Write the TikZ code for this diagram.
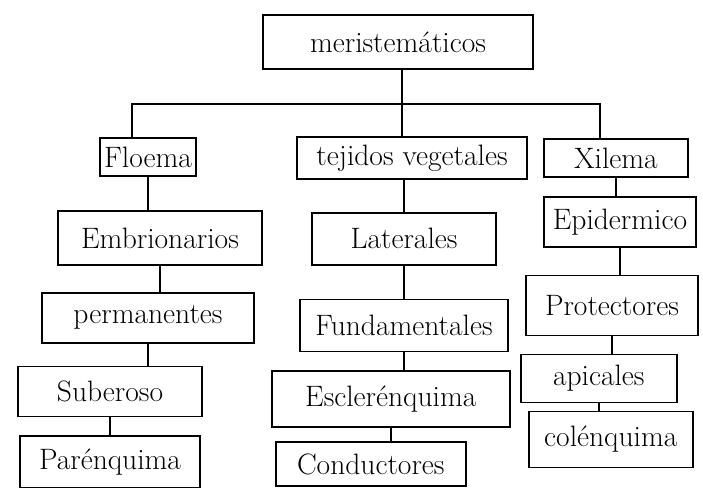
\documentclass[tikz,border=0pt]{standalone}
\usepackage{tikz}
\usetikzlibrary{positioning}

\begin{document}
\begin{tikzpicture}
    [
      BOX/.style={rectangle, draw=black, fill=white, line width = 1.2pt, inner sep = 2pt, align = center, font=\fontsize{21}{25}\selectfont},
      LINK/.style={-, line width = 1.2pt, black},
    ]

    \useasboundingbox (0,0) rectangle (17.575,-12.175);

    \node[BOX, minimum width = 6.75cm, minimum height = 1.35cm] (root) at (9.95,-1.05) {meristemáticos};

    \node[BOX, minimum width = 2.4cm, minimum height = 0.95cm] (floema) at (3.7,-3.93) {Floema};
    \node[BOX, minimum width = 5.75cm, minimum height = 1.05cm] (tejidos) at (10.3,-3.95) {tejidos vegetales};
    \node[BOX, minimum width = 3.6cm, minimum height = 0.95cm] (xilema) at (15.4,-3.95) {Xilema};

    % left column
    \node[BOX, minimum width = 5.1cm, minimum height = 1.35cm] (embrionarios) [below = 0.83cm of floema, xshift = 0.3cm] {Embrionarios};
    \node[BOX, minimum width = 5.3cm, minimum height = 1.25cm] (permanentes) [below = 0.65cm of embrionarios, xshift = -0.3cm] {permanentes};
    \node[BOX, minimum width = 4.6cm, minimum height = 1.25cm] (suberoso) [below = 0.55cm of permanentes, xshift = -0.95cm] {Suberoso};
    \node[BOX, minimum width = 4.5cm, minimum height = 1.3cm] (parenquima) [below = 0.45cm of suberoso] {Parénquima};

    % middle column
    \node[BOX, minimum width = 4.6cm, minimum height = 1.3cm] (laterales) [below = 0.8cm of tejidos, xshift = -0.2cm] {Laterales};
    \node[BOX, minimum width = 5.2cm, minimum height = 1.3cm] (fundamentales) [below = 0.83cm of laterales] {Fundamentales};
    \node[BOX, minimum width = 5.95cm, minimum height = 1.4cm] (esclerenquima) [below = 0.45cm of fundamentales, xshift = -0.33cm] {Esclerénquima};
    \node[BOX, minimum width = 4.75cm, minimum height = 1.1cm] (conductores) [below = 0.33cm of esclerenquima, xshift = -0.5cm] {Conductores};

    % right column
    \node[BOX, minimum width = 3.8cm, minimum height = 1.25cm] (epidermico) [below = 0.45cm of xilema, xshift = 0.1cm] {Epidermico};
    \node[BOX, minimum width = 4.3cm, minimum height = 1.5cm] (protectores) [below = 0.68cm of epidermico, xshift = -0.2cm] {Protectores};
    \node[BOX, minimum width = 3.9cm, minimum height = 1.2cm] (apicales) [below = 0.43cm of protectores, xshift = -0.33cm] {apicales};
    \node[BOX, minimum width = 4.1cm, minimum height = 1.4cm] (colenquima) [below = 0.18cm of apicales, xshift = 0.3cm] {colénquima};

    \coordinate (bus) at (10.05,-2.6);

    \draw[LINK] (root.south -| bus) to (tejidos.north -| bus);
    \draw[LINK] ([xshift = -0.4cm]floema.north) |- (bus) -| ([xshift = -0.4cm]xilema.north);

    \draw[LINK] (floema.south) to (floema.south |- embrionarios.north);
    \draw[LINK] (embrionarios.south) to (embrionarios.south |- permanentes.north);
    \draw[LINK] (permanentes.south) to (permanentes.south |- suberoso.north);
    \draw[LINK] (suberoso.south) to (suberoso.south |- parenquima.north);

    \draw[LINK] (laterales.north) to (laterales.north |- tejidos.south);
    \draw[LINK] (laterales.south) to (laterales.south |- fundamentales.north);
    \draw[LINK] (fundamentales.south) to (fundamentales.south |- esclerenquima.north);
    \draw[LINK] (esclerenquima.south) to (esclerenquima.south |- conductores.north);

    \draw[LINK] (xilema.south) to (xilema.south |- epidermico.north);
    \draw[LINK] (epidermico.south) to (epidermico.south |- protectores.north);
    \draw[LINK] (protectores.south) to (protectores.south |- apicales.north);
    \draw[LINK] (apicales.south) to (apicales.south |- colenquima.north);

  \end{tikzpicture}
\end{document}
